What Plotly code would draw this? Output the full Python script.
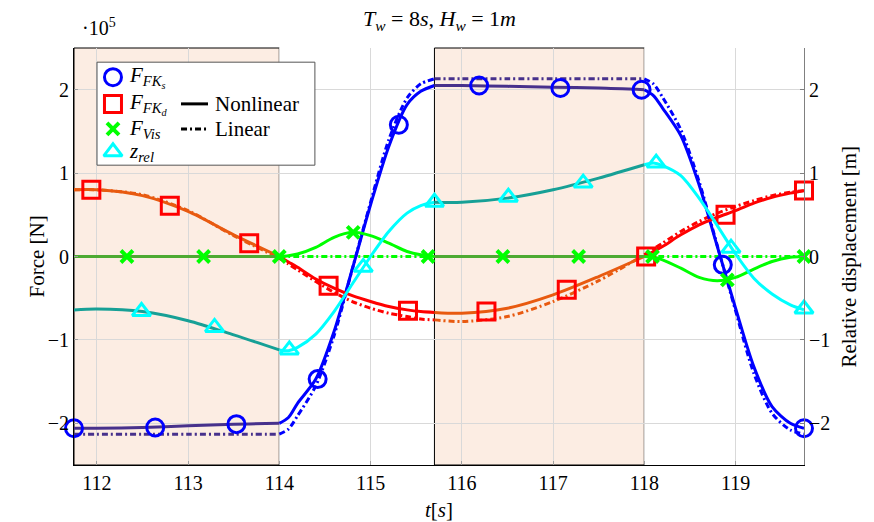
import plotly.graph_objects as go

# ---------------- data ----------------
T = [111.75, 112.0, 112.5, 113.0, 113.5, 114.0, 114.1, 114.2, 114.4, 114.6, 114.8,
     115.0, 115.2, 115.4, 115.55, 115.7, 116.0, 116.5, 117.0, 117.5, 118.0, 118.1,
     118.2, 118.4, 118.6, 118.8, 119.0, 119.2, 119.4, 119.6, 119.75]

# forces in units of 1e5 N
F_FKS_NL = [-2.06, -2.06, -2.05, -2.03, -2.01, -2.00, -1.93, -1.76, -1.47, -0.90, -0.15,
            0.62, 1.32, 1.82, 1.98, 2.05, 2.05, 2.04, 2.03, 2.02, 2.00, 1.93,
            1.78, 1.45, 0.86, 0.12, -0.62, -1.32, -1.80, -2.00, -2.06]
F_FKS_LIN = [-2.13, -2.13, -2.13, -2.13, -2.13, -2.13, -2.07, -1.91, -1.55, -0.95, -0.15,
             0.65, 1.40, 1.90, 2.07, 2.13, 2.13, 2.13, 2.13, 2.13, 2.13, 2.07,
             1.91, 1.52, 0.90, 0.13, -0.65, -1.40, -1.88, -2.08, -2.13]
F_FKD_NL = [0.80, 0.80, 0.73, 0.54, 0.26, 0.00, -0.065, -0.13, -0.27, -0.38, -0.47,
            -0.54, -0.60, -0.64, -0.66, -0.67, -0.68, -0.62, -0.46, -0.24, 0.00, 0.06,
            0.12, 0.26, 0.38, 0.47, 0.55, 0.64, 0.71, 0.76, 0.79]
F_FKD_LIN = [0.80, 0.80, 0.74, 0.55, 0.25, -0.02, -0.09, -0.16, -0.30, -0.43, -0.54,
             -0.62, -0.68, -0.72, -0.75, -0.76, -0.78, -0.72, -0.54, -0.29, 0.02, 0.09,
             0.16, 0.30, 0.42, 0.52, 0.60, 0.67, 0.73, 0.77, 0.79]
F_VIS_NL = [0.0, 0.0, 0.0, 0.0, 0.0, 0.0, 0.01, 0.03, 0.11, 0.23, 0.29,
            0.25, 0.16, 0.06, 0.02, 0.0, 0.0, 0.0, 0.0, 0.0, 0.0, -0.01,
            -0.04, -0.14, -0.25, -0.29, -0.25, -0.15, -0.06, -0.01, 0.0]
F_VIS_LIN = [0.0, 0.0, 0.0, 0.0, 0.0, 0.0, 0.0, 0.0, 0.0, 0.0, 0.0,
             0.0, 0.0, 0.0, 0.0, 0.0, 0.0, 0.0, 0.0, 0.0, 0.0, 0.0,
             0.0, 0.0, 0.0, 0.0, 0.0, 0.0, 0.0, 0.0, 0.0]
# relative displacement in m
Z_REL = [-0.64, -0.63, -0.66, -0.77, -0.94, -1.12, -1.13, -1.09, -0.93, -0.66, -0.33,
         0.00, 0.30, 0.52, 0.61, 0.65, 0.65, 0.70, 0.80, 0.94, 1.10, 1.12,
         1.09, 0.97, 0.70, 0.37, 0.03, -0.26, -0.45, -0.58, -0.64]

# marker positions
FKS_MX = [111.75, 112.64, 113.53, 114.42, 115.31, 116.19, 117.08, 117.97, 118.86, 119.75]
FKS_MY = [-2.06, -2.05, -2.01, -1.47, 1.58, 2.05, 2.02, 2.00, -0.10, -2.06]
FKD_MX = [111.94, 112.80, 113.67, 114.54, 115.41, 116.27, 117.15, 118.02, 118.89, 119.75]
FKD_MY = [0.80, 0.61, 0.16, -0.35, -0.65, -0.66, -0.40, 0.00, 0.50, 0.79]
VIS_MX = [112.33, 113.17, 114.00, 114.81, 115.63, 116.45, 117.28, 118.09, 118.91, 119.75]
VIS_MY = [0.0, 0.0, 0.0, 0.29, 0.0, 0.0, 0.0, 0.0, -0.28, 0.0]
ZR_MX = [112.49, 113.29, 114.11, 114.92, 115.70, 116.51, 117.33, 118.13, 118.95, 119.75]
ZR_MY = [-0.66, -0.85, -1.12, -0.13, 0.65, 0.71, 0.88, 1.12, 0.10, -0.63]

X_TICKS = [112, 113, 114, 115, 116, 117, 118, 119]
Y_TICKS = [-2, -1, 0, 1, 2]
Y_TICKTEXT = ["\u22122", "\u22121", "0", "1", "2"]

SHADED = [(111.75, 114.0), (115.7, 118.0)]
OPEN = [(114.0, 115.7), (118.0, 119.75)]
X_RANGE = [111.75, 119.75]
Y_RANGE = [-2.5, 2.5]

FONT = "Liberation Serif"
FS = 20      # tick labels
FS_TXT = 21  # legend and axis titles
FS_TTL = 22  # title
SHADE = "#FCEDE3"

COL = {
    "fks": ("#0000FF", "#47318C"),
    "fkd": ("#FF0000", "#E85A10"),
    "vis": ("#00FF00", "#4DAA32"),
    "zr": ("#00FFFF", "#17A096"),
}
DASHDOT = "6px,3px,2px,3px"


def pieces(xs, ys, spans):
    px, py = [], []
    for lo, hi in spans:
        for x, y in zip(xs, ys):
            if lo - 1e-9 <= x <= hi + 1e-9:
                px.append(x)
                py.append(y)
        px.append(None)
        py.append(None)
    return px, py


fig = go.Figure()


def add_line(ys, key, dash, yaxis="y"):
    bright, dark = COL[key]
    for spans, col in ((OPEN, bright), (SHADED, dark)):
        px, py = pieces(T, ys, spans)
        fig.add_trace(go.Scatter(x=px, y=py, mode="lines", yaxis=yaxis,
                                 line=dict(color=col, width=3, dash=dash, shape="spline", smoothing=0.8),
                                 connectgaps=False, showlegend=False, hoverinfo="skip"))


add_line(F_FKS_LIN, "fks", DASHDOT)
add_line(F_FKD_LIN, "fkd", DASHDOT)
add_line(F_VIS_LIN, "vis", DASHDOT)
add_line(F_FKS_NL, "fks", "solid")
add_line(F_FKD_NL, "fkd", "solid")
add_line(F_VIS_NL, "vis", "solid")
add_line(Z_REL, "zr", "solid", yaxis="y2")

MK = {
    "fks": dict(symbol="circle-open", size=17, line=dict(width=3, color="#0000FF"), color="#0000FF"),
    "fkd": dict(symbol="square-open", size=17, line=dict(width=3, color="#FF0000"), color="#FF0000"),
    "vis": dict(symbol="x-thin-open", size=12, line=dict(width=4, color="#00FF00"), color="#00FF00"),
    "zr": dict(symbol="triangle-up-open", size=16, line=dict(width=3, color="#00FFFF"), color="#00FFFF"),
}

fig.add_trace(go.Scatter(x=FKS_MX, y=FKS_MY, mode="markers", marker=MK["fks"], showlegend=False, cliponaxis=False))
fig.add_trace(go.Scatter(x=FKD_MX, y=FKD_MY, mode="markers", marker=MK["fkd"], showlegend=False, cliponaxis=False))
fig.add_trace(go.Scatter(x=VIS_MX, y=VIS_MY, mode="markers", marker=MK["vis"], showlegend=False, cliponaxis=False))
fig.add_trace(go.Scatter(x=ZR_MX, y=ZR_MY, mode="markers", marker=MK["zr"], yaxis="y2", showlegend=False, cliponaxis=False))

# ---------------- custom legend on hidden overlay axes ----------------
LX0, LX1, LY0, LY1 = 0.0315, 0.330, 0.719, 0.966
ROWS = [0.930, 0.866, 0.806, 0.751]
MX = 0.0534
fig.add_trace(go.Scatter(x=[LX0, LX1, LX1, LX0, LX0], y=[LY0, LY0, LY1, LY1, LY0],
                         xaxis="x3", yaxis="y3", mode="lines", fill="toself", fillcolor="white",
                         line=dict(color="#555555", width=1), showlegend=False, hoverinfo="skip"))
for key, ry in zip(["fks", "fkd", "vis", "zr"], ROWS):
    fig.add_trace(go.Scatter(x=[MX], y=[ry], xaxis="x3", yaxis="y3", mode="markers",
                             marker=MK[key], showlegend=False, hoverinfo="skip"))
for dash, ry in (("solid", ROWS[1]), (DASHDOT, ROWS[2])):
    fig.add_trace(go.Scatter(x=[0.1466, 0.1836], y=[ry, ry], xaxis="x3", yaxis="y3", mode="lines",
                             line=dict(color="black", width=3, dash=dash), showlegend=False, hoverinfo="skip"))

LEG_TXT = ["<i>F<sub>FK<sub>s</sub></sub></i>", "<i>F<sub>FK<sub>d</sub></sub></i>",
           "<i>F<sub>Vis</sub></i>", "<i>z<sub>rel</sub></i>"]
ann = []
for txt, ry in zip(LEG_TXT, ROWS):
    ann.append(dict(x=0.0726, y=ry, xref="paper", yref="paper", text=txt, showarrow=False,
                    xanchor="left", yanchor="middle", font=dict(family=FONT, size=FS_TXT, color="black")))
ann.append(dict(x=0.190, y=ROWS[1], xref="paper", yref="paper", text="Nonlinear", showarrow=False,
                xanchor="left", yanchor="middle", font=dict(family=FONT, size=FS_TXT, color="black")))
ann.append(dict(x=0.190, y=ROWS[2], xref="paper", yref="paper", text="Linear", showarrow=False,
                xanchor="left", yanchor="middle", font=dict(family=FONT, size=FS_TXT, color="black")))
# title, exponent, axis titles
ann.append(dict(x=0.5, y=1.067, xref="paper", yref="paper", showarrow=False, yanchor="middle",
                text="<i>T<sub>w</sub></i> = 8<i>s</i>, <i>H<sub>w</sub></i> = 1<i>m</i>",
                font=dict(family=FONT, size=FS_TTL, color="black")))
ann.append(dict(x=0.008, y=1.050, xref="paper", yref="paper", showarrow=False, xanchor="left",
                yanchor="middle", text="\u00b710<sup>5</sup>", font=dict(family=FONT, size=FS, color="black")))
ann.append(dict(x=-0.0712, y=0.5, xref="paper", yref="paper", showarrow=False, textangle=-90,
                text="Force [N]", font=dict(family=FONT, size=FS_TXT, color="black")))
ann.append(dict(x=1.0795, y=0.5, xref="paper", yref="paper", showarrow=False, textangle=-90,
                text="Relative displacement [m]", font=dict(family=FONT, size=FS_TXT, color="black")))
ann.append(dict(x=0.5, y=-0.108, xref="paper", yref="paper", showarrow=False, yanchor="middle",
                text="<i>t</i>[<i>s</i>]", font=dict(family=FONT, size=FS_TXT, color="black")))

shapes = []
for lo, hi in SHADED:
    shapes.append(dict(type="rect", xref="x", yref="paper", x0=lo, x1=hi, y0=0, y1=1,
                       fillcolor=SHADE, line=dict(color="black", width=1), layer="below"))

fig.update_layout(
    width=874, height=522,
    margin=dict(l=74, r=70, t=48, b=57),
    paper_bgcolor="white", plot_bgcolor="white",
    font=dict(family=FONT, size=FS, color="black"),
    shapes=shapes, annotations=ann,
    xaxis=dict(range=X_RANGE, tickvals=X_TICKS, showgrid=True, gridcolor="#D9D9D9", gridwidth=1,
               zeroline=False, showline=True, linecolor="black", linewidth=1,
               ticks="inside", ticklen=4, tickcolor="#A0A0A0", tickfont=dict(family=FONT, size=FS)),
    yaxis=dict(range=Y_RANGE, tickvals=Y_TICKS, ticktext=Y_TICKTEXT, showgrid=True, gridcolor="#D9D9D9",
               zeroline=False, showline=True, linecolor="black", linewidth=1,
               ticks="inside", ticklen=4, tickcolor="#A0A0A0", tickfont=dict(family=FONT, size=FS)),
    yaxis2=dict(range=Y_RANGE, tickvals=Y_TICKS, ticktext=Y_TICKTEXT, overlaying="y", side="right",
                showgrid=False, zeroline=False, showline=True, linecolor="#808080", linewidth=1,
                ticks="inside", ticklen=4, tickcolor="#808080", tickfont=dict(family=FONT, size=FS)),
    xaxis3=dict(range=[0, 1], overlaying="x", anchor="y3", visible=False, fixedrange=True),
    yaxis3=dict(range=[0, 1], overlaying="y", anchor="x3", visible=False, fixedrange=True),
)

fig.write_html("out.html")
